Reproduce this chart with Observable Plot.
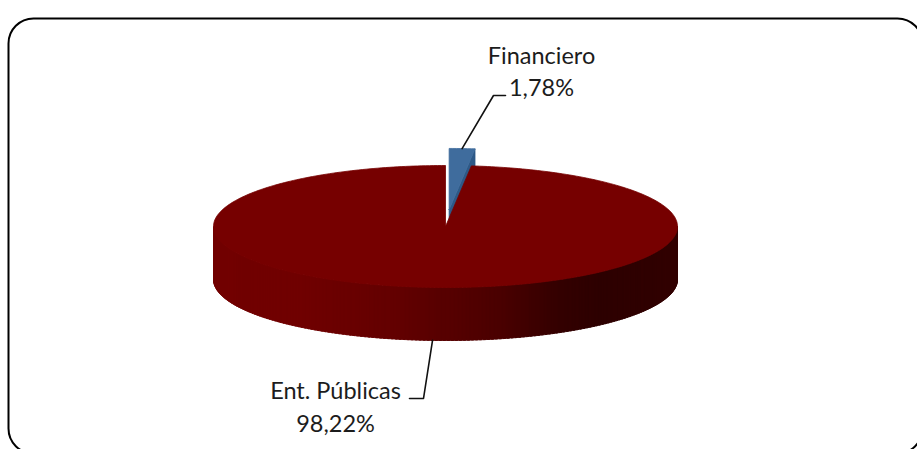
<!DOCTYPE html>
<html><head><meta charset="utf-8">
<script src="https://cdn.jsdelivr.net/npm/d3@7"></script>
<script src="https://cdn.jsdelivr.net/npm/@observablehq/plot@0.6"></script>
<style>html,body{margin:0;padding:0;background:#fff;overflow:hidden}</style>
</head><body><div id="chart"></div>
<script>
// ---- data ----
const categories = ["Financiero", "Ent. Públicas"];
const values = [1.78, 98.22];
const valueLabels = ["1,78%", "98,22%"];

// ---- style / layout ----
const W = 917, H = 449;
const X_RANGE = [213, 677], Y_RANGE = [287, 165];     // pie ellipse extent in px
const xs = d3.scaleLinear().domain([-1, 1]).range(X_RANGE);
const ys = d3.scaleLinear().domain([-1, 1]).range(Y_RANGE);
const DEPTH = 53 / 61;                                 // side height in y units
const explode = [0.28, 0];
const topColors = ["#3f6c9d", "#760000"];
const cutColors = ["#2d5987", "#5a0000"];
const sideColor = d3.scaleLinear()
  .domain([-1, -0.625, -0.194, 0, 0.237, 0.496, 0.668, 1])
  .range(["#720000", "#700000", "#620000", "#570000", "#4a0000", "#330000", "#2d0000", "#320000"])
  .interpolate(d3.interpolateRgb);
const FONT = "Lato";
const FS = 23.5;

// ---- geometry from values ----
const total = d3.sum(values);
let acc = 0;
const slices = values.map((v, i) => {
  const a0 = acc / total * 2 * Math.PI; acc += v;
  const a1 = acc / total * 2 * Math.PI;
  const mid = (a0 + a1) / 2;
  return {i, a0, a1, mid, ox: explode[i] * Math.sin(mid), oy: explode[i] * Math.cos(mid)};
});

const polys = []; let pid = 0;
function addPoly(pts, color) { const id = pid++; [...pts, pts[0]].forEach(([x, y]) => polys.push({id, color, x, y})); }
function arcPts(s, a0, a1, dy = 0) {
  const n = Math.max(2, Math.ceil((a1 - a0) / (Math.PI / 180)));
  return d3.range(n + 1).map(k => { const a = a0 + (a1 - a0) * k / n; return [s.ox + Math.sin(a), s.oy + Math.cos(a) + dy]; });
}
const order = slices.slice().sort((a, b) => Math.cos(b.mid) - Math.cos(a.mid));
for (const s of order) {
  // cut faces
  if (Math.sin(s.a1) > 1e-6) {
    addPoly([[s.ox, s.oy], [s.ox + Math.sin(s.a1), s.oy + Math.cos(s.a1)],
             [s.ox + Math.sin(s.a1), s.oy + Math.cos(s.a1) - DEPTH], [s.ox, s.oy - DEPTH]], cutColors[s.i]);
  }
  if (Math.sin(s.a0) < -1e-6) {
    addPoly([[s.ox, s.oy], [s.ox + Math.sin(s.a0), s.oy + Math.cos(s.a0)],
             [s.ox + Math.sin(s.a0), s.oy + Math.cos(s.a0) - DEPTH], [s.ox, s.oy - DEPTH]], cutColors[s.i]);
  }
  // outer side (front half only), drawn as thin shaded strips
  const f0 = Math.max(s.a0, Math.PI / 2), f1 = Math.min(s.a1, 3 * Math.PI / 2);
  if (f1 > f0) {
    const step = Math.PI / 180;
    for (let a = f0; a < f1 - 1e-9; a += step) {
      const b = Math.min(a + step * 1.6, f1);
      const xm = s.ox + Math.sin(a + step / 2);
      addPoly([[s.ox + Math.sin(a), s.oy + Math.cos(a)], [s.ox + Math.sin(b), s.oy + Math.cos(b)],
               [s.ox + Math.sin(b), s.oy + Math.cos(b) - DEPTH], [s.ox + Math.sin(a), s.oy + Math.cos(a) - DEPTH]],
              s.i === 1 ? sideColor(xm) : cutColors[s.i]);
    }
  }
  // top face
  addPoly([[s.ox, s.oy], ...arcPts(s, s.a0, s.a1)], topColors[s.i]);
}

// ---- labels & leader lines ----
const labelLayout = [
  {elbow: [493, 95], end: [505, 95], cx: 541, base: [63, 95], onTop: true},
  {elbow: [423, 398], end: [409, 398], cx: 335, base: [398, 431], onTop: false}
];
const leaders = [], texts = [];
slices.forEach((s, i) => {
  const L = labelLayout[i];
  const ax = s.ox + Math.sin(s.mid);
  const ay = s.oy + Math.cos(s.mid) - (L.onTop ? 0 : DEPTH);
  leaders.push({k: i, x: ax, y: ay});
  leaders.push({k: i, x: xs.invert(L.elbow[0]), y: ys.invert(L.elbow[1])});
  leaders.push({k: i, x: xs.invert(L.end[0]), y: ys.invert(L.end[1])});
  texts.push({x: xs.invert(L.cx), y: ys.invert(L.base[0] - 0.32 * FS), t: categories[i]});
  texts.push({x: xs.invert(L.cx), y: ys.invert(L.base[1] - 0.32 * FS), t: valueLabels[i]});
});

const chart = Plot.plot({
  width: W, height: H, margin: 0,
  x: {domain: [-1, 1], range: X_RANGE, axis: null},
  y: {domain: [-1, 1], range: Y_RANGE, axis: null},
  color: {type: "identity"},
  style: {background: "#fff", fontFamily: FONT, overflow: "hidden"},
  marks: [
    Plot.line(polys, {x: "x", y: "y", z: "id", fill: "color", stroke: "color", strokeWidth: 0.8, curve: "linear"}),
    Plot.line(leaders, {x: "x", y: "y", z: "k", stroke: "#111", strokeWidth: 1.6, curve: "linear"}),
    Plot.text(texts, {x: "x", y: "y", text: "t", textAnchor: "middle", fontSize: FS, fontFamily: FONT, fill: "#1c1c1c"}),
    Plot.frame({stroke: "#000", strokeWidth: 2, rx: 25, insetLeft: 8, insetTop: 18, insetRight: -5, insetBottom: -4})
  ]
});
document.getElementById("chart").appendChild(chart);
</script>
</body></html>
